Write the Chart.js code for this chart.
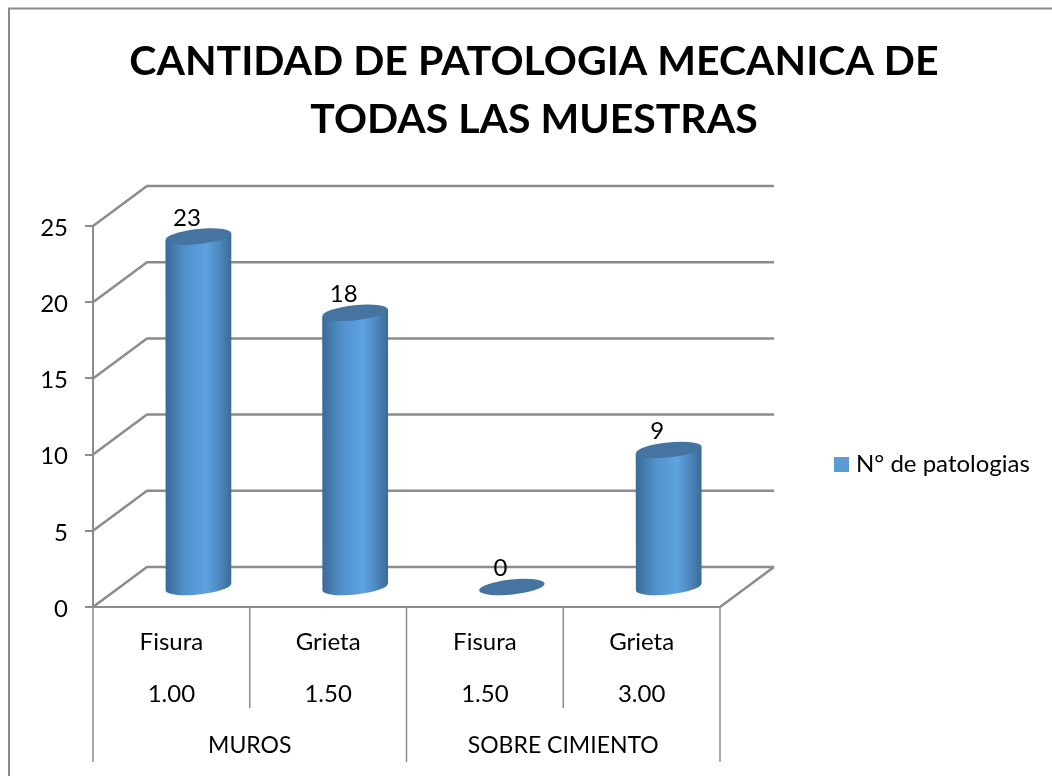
<!DOCTYPE html>
<html>
<head>
<meta charset="utf-8">
<style>
  html, body { margin:0; padding:0; background:#fff; }
  canvas { display:block; }
</style>
<script src="https://cdn.jsdelivr.net/npm/chart.js@4"></script>
</head>
<body>
<canvas id="chart" width="1052" height="776"></canvas>
<script>
const tipos = ['Fisura', 'Grieta', 'Fisura', 'Grieta'];
const anchos = ['1.00', '1.50', '1.50', '3.00'];
const grupos = ['MUROS', 'SOBRE CIMIENTO'];
const patologias = [23, 18, 0, 9];
const yTicks = [0, 5, 10, 15, 20, 25];

const FONT = 'Lato, Carlito, sans-serif';
const LINE = '#8c8c8c';
const DEPTH_X = 54, DEPTH_Y = 40;   // shift of the back wall
const RY = 7.5, TILT = -0.105;

const legendBox = document.createElement('canvas');
legendBox.width = 15; legendBox.height = 15;
const lb = legendBox.getContext('2d');
lb.fillStyle = '#5b9bd5';
lb.fillRect(0, 0, 15, 15);

function drawCylinder(ctx, bar, empty) {
  const cx = bar.x + DEPTH_X / 2;
  const rx = bar.width / 2;
  const top = bar.y - DEPTH_Y / 2;
  const base = bar.base - DEPTH_Y / 2 + 1;
  const dy = Math.sin(TILT) * rx;

  if (!empty) {
    const grad = ctx.createLinearGradient(cx - rx, 0, cx + rx, 0);
    grad.addColorStop(0, '#3a6a98');
    grad.addColorStop(0.3, '#5290cb');
    grad.addColorStop(0.62, '#5da3e2');
    grad.addColorStop(0.85, '#4b83b8');
    grad.addColorStop(1, '#3b6a96');
    ctx.beginPath();
    ctx.moveTo(cx - rx, top - dy);
    ctx.lineTo(cx + rx, top + dy);
    ctx.lineTo(cx + rx, base + dy);
    ctx.ellipse(cx, base, rx, RY, TILT, 0, Math.PI);
    ctx.closePath();
    ctx.fillStyle = grad;
    ctx.fill();
  }
  ctx.beginPath();
  ctx.ellipse(cx, top, rx, RY, TILT, 0, Math.PI * 2);
  ctx.fillStyle = '#44749f';
  ctx.fill();
}

const pseudo3d = {
  id: 'pseudo3d',
  afterLayout(chart) {
    // title and legend sit off the plot's own centre
    const t = chart.titleBlock;
    t.left = 0; t.right = 1068;
    const l = chart.legend;
    l.left = 834; l.right = 1052;
    l.top = 447; l.bottom = 482;
  },
  beforeDraw(chart) {
    const ctx = chart.ctx;
    ctx.save();
    ctx.strokeStyle = '#8a8a8a';
    ctx.lineWidth = 2;
    ctx.beginPath();
    ctx.moveTo(9, 776);
    ctx.lineTo(9, 8.5);
    ctx.lineTo(1052, 8.5);
    ctx.stroke();
    ctx.restore();
  },
  beforeDatasetsDraw(chart) {
    const ctx = chart.ctx, y = chart.scales.y, area = chart.chartArea;
    ctx.save();
    ctx.strokeStyle = LINE;
    ctx.lineWidth = 2.5;
    ctx.beginPath();
    yTicks.forEach(v => {
      const py = y.getPixelForValue(v);
      ctx.moveTo(area.left, py);
      ctx.lineTo(area.left + DEPTH_X, py - DEPTH_Y);
      ctx.lineTo(area.right + DEPTH_X, py - DEPTH_Y);
    });
    ctx.moveTo(area.right, area.bottom);
    ctx.lineTo(area.right + DEPTH_X, area.bottom - DEPTH_Y);
    ctx.stroke();

    // separators of the two label rows
    const x = chart.scales.x, x2 = chart.scales.x2;
    ctx.lineWidth = 1.5;
    ctx.beginPath();
    tipos.forEach((_, i) => {
      const px = i === 0 ? area.left : (x.getPixelForValue(i - 1) + x.getPixelForValue(i)) / 2;
      ctx.moveTo(px, area.bottom);
      ctx.lineTo(px, x.bottom);
    });
    ctx.moveTo(area.right, area.bottom);
    ctx.lineTo(area.right, x2.bottom);
    ctx.moveTo(area.left, x.bottom);
    ctx.lineTo(area.left, x2.bottom);
    const mid = (x2.getPixelForValue(0) + x2.getPixelForValue(1)) / 2;
    ctx.moveTo(mid, x.bottom);
    ctx.lineTo(mid, x2.bottom);
    ctx.stroke();
    ctx.restore();
  },
  beforeDatasetDraw(chart, args) {
    const ctx = chart.ctx;
    ctx.save();
    args.meta.data.forEach((bar, i) => drawCylinder(ctx, bar, patologias[i] === 0));
    ctx.restore();
    return false;
  },
  afterDatasetsDraw(chart) {
    const ctx = chart.ctx, meta = chart.getDatasetMeta(0);
    ctx.save();
    ctx.fillStyle = '#000';
    ctx.font = '24px ' + FONT;
    ctx.textAlign = 'center';
    ctx.textBaseline = 'middle';
    meta.data.forEach((bar, i) => {
      ctx.fillText(String(patologias[i]), bar.x + 15.5, bar.y - 38.5);
    });
    ctx.restore();
  }
};

new Chart(document.getElementById('chart'), {
  type: 'bar',
  data: {
    labels: tipos.map((t, i) => [t, anchos[i]]),
    datasets: [{
      label: 'N° de patologias',
      data: patologias,
      backgroundColor: '#5b9bd5',
      barPercentage: 0.6,
      categoryPercentage: 0.7,
    }]
  },
  options: {
    responsive: false,
    animation: false,
    layout: { padding: { left: 0, right: 332, top: 0, bottom: 14 } },
    plugins: {
      title: {
        display: true,
        text: ['CANTIDAD DE PATOLOGIA MECANICA DE', 'TODAS LAS MUESTRAS'],
        color: '#000',
        font: { family: FONT, size: 41, weight: 'bold', lineHeight: 1.415 },
        padding: { top: 33, bottom: 77 },
      },
      legend: {
        position: 'chartArea',
        align: 'start',
        labels: {
          color: '#000',
          font: { family: FONT, size: 24 },
          usePointStyle: true,
          pointStyle: legendBox,
          pointStyleWidth: 5,
          boxHeight: 15,
          padding: 5,
        }
      },
      tooltip: { enabled: false },
    },
    scales: {
      y: {
        min: 0, max: 25,
        afterFit: s => { s.width = 93; },
        afterBuildTicks: s => { s.ticks = yTicks.map(v => ({ value: v })); },
        border: { color: LINE, width: 2 },
        grid: { drawOnChartArea: false, color: LINE, lineWidth: 2, tickLength: 8 },
        ticks: { color: '#000', padding: 17, labelOffset: 2, font: { family: FONT, size: 24 } },
      },
      x: {
        afterFit: s => { s.height = 101; },
        border: { color: LINE, width: 2 },
        grid: { display: false },
        ticks: { color: '#000', padding: 1, maxRotation: 0, font: { family: FONT, size: 24, lineHeight: 2.17 } },
      },
      x2: {
        type: 'category',
        position: 'bottom',
        labels: grupos,
        afterFit: s => { s.height = 54; },
        border: { display: false },
        grid: { display: false },
        ticks: { color: '#000', padding: 16, maxRotation: 0, font: { family: FONT, size: 23 } },
      },
    },
  },
  plugins: [pseudo3d],
});
</script>
</body>
</html>
